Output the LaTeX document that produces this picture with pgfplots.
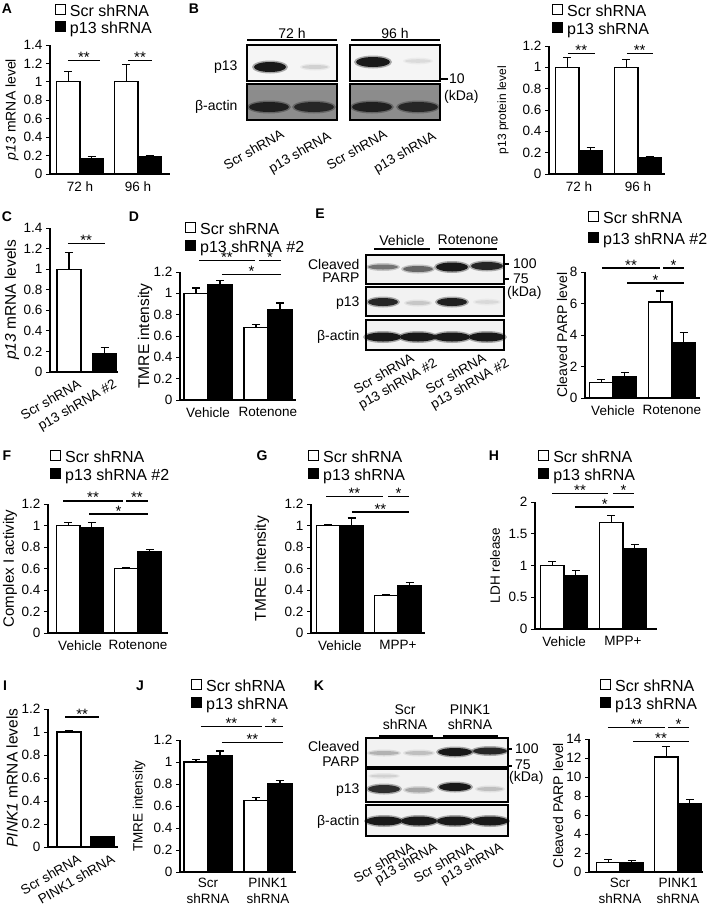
\documentclass[border=0pt]{standalone}
\usepackage{fontspec}
\setmainfont{Liberation Sans}
\usepackage{pgfplots}
\pgfplotsset{compat=1.18}
\newcommand\fs[1]{\fontsize{#1}{#1}\selectfont}
% significance bar with stars, in axis coordinates
\newcommand\sig[4]{\draw[line width=1.2pt] (axis cs:#1,#3) -- (axis cs:#2,#3) node[midway, anchor=base, font=\fs{15}, inner sep=0pt, yshift=-2pt] {#4};}
% blurred blot band
\newcommand\band[5]{\fill[#5, opacity=0.35] (#1,#2) ellipse ({#3+2} and {#4+1.5}); \fill[#5] (#1,#2) ellipse (#3 and #4);}
\newcommand\lgA{\legend{\fs{16}Scr shRNA, \fs{16}p13 shRNA}}
\newcommand\lgB{\legend{\fs{16}Scr shRNA, \fs{16}p13 shRNA \#2}}
\pgfplotsset{
  panel/.style={scale only axis, clip=false, anchor=south west,
    axis lines=left, axis line style={-, line width=1.3pt},
    ybar=0pt, ymin=0, xtick={1,2}, xtick style={draw=none},
    ytick style={black, line width=1pt}, tick align=outside, major tick length=4pt,
    tick label style={font=\fs{13.5}}, /pgf/number format/assume math mode=true,
    legend cell align=left,
    legend style={draw=none, fill=none, inner sep=0pt, row sep=0pt, anchor=north west,
      nodes={inner sep=2pt, text height=10pt, text depth=3pt},
      /tikz/every odd column/.append style={column sep=2pt}},
    legend image code/.code={\draw[##1, line width=1pt] (0pt,-1.5pt) rectangle (10pt,8.5pt);},
    enlargelimits=false},
  yl/.style={ylabel style={at={(axis description cs:-#1,0.5)}, anchor=center}},
  lg/.style 2 args={legend style={at={(axis description cs:#1,#2)}, yshift=3pt}},
  rot/.style={xticklabel style={rotate=30, anchor=north east, inner sep=0pt, xshift=6pt, yshift=-6pt}},
  two/.style={xticklabel style={align=center, inner sep=2pt, font=\fontsize{13.5}{16}\selectfont}},
  wb/.style={fill=white, draw=black, line width=1.2pt,
    error bars/y dir=plus, error bars/y explicit,
    error bars/error bar style={line width=1.2pt, black},
    error bars/error mark options={rotate=90, black, line width=1.2pt, mark size=4pt}},
  bb/.style={wb, fill=black},
}
\begin{document}
\begin{tikzpicture}
\useasboundingbox (0,0) rectangle (709pt,-906pt);

% A
\begin{axis}[panel, at={(50pt,-174pt)}, width=120pt, height=129pt,
  xmin=0.483, xmax=2.552, ymax=1.4, ytick={0,0.2,0.4,0.6,0.8,1,1.2,1.4},
  bar width=23.5pt, xticklabels={72 h,96 h},
  ylabel={\fs{14}\textit{p13} mRNA level}, yl=0.317, lg={0.04}{1.30}]
\addplot[wb] coordinates {(1,1) +- (0,0.11) (2,1) +- (0,0.19)};
\addplot[bb] coordinates {(1,0.17) +- (0,0.02) (2,0.19) +- (0,0.01)};
\lgA
\sig{0.79}{1.345}{1.23}{**}
\sig{1.83}{2.24}{1.23}{**}
\end{axis}

% B chart
\begin{axis}[panel, at={(549pt,-174pt)}, width=116pt, height=128pt,
  xmin=0.492, xmax=2.458, ymax=1.2, ytick={0,0.2,0.4,0.6,0.8,1,1.2},
  bar width=23.5pt, xticklabels={72 h,96 h},
  ylabel={\fs{12}p13 protein level}, yl=0.397, lg={0.026}{1.305}]
\addplot[wb] coordinates {(1,1) +- (0,0.09) (2,1) +- (0,0.07)};
\addplot[bb] coordinates {(1,0.22) +- (0,0.03) (2,0.15) +- (0,0.01)};
\lgA
\sig{0.81}{1.27}{1.13}{**}
\sig{1.81}{2.25}{1.13}{**}
\end{axis}

% C
\begin{axis}[panel, rot, at={(50pt,-372pt)}, width=68pt, height=144pt,
  xmin=0.465, xmax=2.38, ymax=1.4, ytick={0,0.2,0.4,0.6,0.8,1,1.2,1.4},
  bar width=24pt, xticklabels={Scr shRNA,p13 shRNA \#2},
  ylabel={\fs{15.5}\textit{p13} mRNA levels}, yl=0.56]
\addplot[wb, bar shift=0pt] coordinates {(1,1) +- (0,0.16)};
\addplot[bb, bar shift=0pt] coordinates {(2,0.18) +- (0,0.06)};
\sig{0.97}{2.0}{1.25}{**}
\end{axis}

% D
\begin{axis}[panel, at={(180pt,-400pt)}, width=116pt, height=128pt,
  xmin=0.533, xmax=2.467, ymax=1.2, ytick={0,0.2,0.4,0.6,0.8,1,1.2},
  bar width=24pt, xticklabels={Vehicle,Rotenone},
  ylabel={\fs{15.5}TMRE intensity}, yl=0.30, lg={0.043}{1.367}]
\addplot[wb] coordinates {(1,1) +- (0,0.05) (2,0.68) +- (0,0.03)};
\addplot[bb] coordinates {(1,1.08) +- (0,0.04) (2,0.85) +- (0,0.06)};
\lgB
\sig{0.85}{1.78}{1.31}{**}
\sig{1.85}{2.217}{1.31}{*}
\sig{1.233}{2.217}{1.18}{*}
\end{axis}

% E chart
\begin{axis}[panel, at={(585pt,-398pt)}, width=115pt, height=126pt,
  xmin=0.525, xmax=2.475, ymax=8, ytick={0,2,4,6,8},
  bar width=23.5pt, xticklabels={Vehicle,Rotenone},
  ylabel={\fs{14}Cleaved PARP level}, yl=0.2, lg={0.026}{1.46},
  legend style={row sep=3pt}]
\addplot[wb] coordinates {(1,1) +- (0,0.15) (2,6.1) +- (0,0.7)};
\addplot[bb] coordinates {(1,1.38) +- (0,0.22) (2,3.55) +- (0,0.6)};
\lgB
\sig{0.81}{1.80}{8.25}{**}
\sig{1.85}{2.20}{8.25}{*}
\sig{1.24}{2.20}{7.3}{*}
\end{axis}

% F
\begin{axis}[panel, at={(48pt,-633pt)}, width=120pt, height=129pt,
  xmin=0.448, xmax=2.517, ymax=1.2, ytick={0,0.2,0.4,0.6,0.8,1,1.2},
  bar width=23.5pt, xticklabels={Vehicle,Rotenone},
  ylabel={\fs{15}Complex I activity}, yl=0.317, lg={0.017}{1.395}]
\addplot[wb] coordinates {(1,1) +- (0,0.03) (2,0.6) +- (0,0.01)};
\addplot[bb] coordinates {(1,0.98) +- (0,0.05) (2,0.76) +- (0,0.015)};
\lgB
\sig{0.707}{1.741}{1.228}{**}
\sig{1.793}{2.172}{1.228}{**}
\sig{1.155}{2.172}{1.107}{*}
\end{axis}

% G
\begin{axis}[panel, at={(311pt,-633pt)}, width=114pt, height=129pt,
  xmin=0.5, xmax=2.466, ymax=1.2, ytick={0,0.2,0.4,0.6,0.8,1,1.2},
  bar width=23.5pt, xticklabels={Vehicle,MPP+},
  ylabel={\fs{15.5}TMRE intensity}, yl=0.43, lg={-0.026}{1.395}]
\addplot[wb] coordinates {(1,1) +- (0,0.01) (2,0.35) +- (0,0.01)};
\addplot[bb] coordinates {(1,1) +- (0,0.07) (2,0.44) +- (0,0.03)};
\lgA
\sig{0.76}{1.74}{1.27}{**}
\sig{1.83}{2.19}{1.27}{*}
\sig{1.207}{2.19}{1.125}{**}
\end{axis}

% H
\begin{axis}[panel, at={(535pt,-629pt)}, width=122pt, height=127pt,
  xmin=0.508, xmax=2.576, ymax=2, ytick={0,0.5,1,1.5,2},
  bar width=23.5pt, xticklabels={Vehicle,MPP+},
  ylabel={\fs{13.5}LDH release}, yl=0.328, lg={0.025}{1.386}]
\addplot[wb] coordinates {(1,1) +- (0,0.06) (2,1.68) +- (0,0.11)};
\addplot[bb] coordinates {(1,0.84) +- (0,0.08) (2,1.26) +- (0,0.07)};
\lgA
\sig{0.797}{1.746}{2.14}{**}
\sig{1.83}{2.19}{2.14}{*}
\sig{1.19}{2.19}{1.92}{*}
\end{axis}

% I
\begin{axis}[panel, rot, at={(48pt,-847pt)}, width=70pt, height=138pt,
  xmin=0.373, xmax=2.46, ymax=1.2, ytick={0,0.2,0.4,0.6,0.8,1,1.2},
  bar width=24pt, xticklabels={Scr shRNA,PINK1 shRNA},
  ylabel={\fs{15.5}\textit{PINK1} mRNA levels}, yl=0.514]
\addplot[wb, bar shift=0pt] coordinates {(1,1) +- (0,0.01)};
\addplot[bb, bar shift=0pt] coordinates {(2,0.09) +- (0,0.003)};
\sig{0.88}{1.90}{1.13}{**}
\end{axis}

% J
\begin{axis}[panel, two, at={(180pt,-872pt)}, width=116pt, height=132pt,
  xmin=0.533, xmax=2.467, ymax=1.2, ytick={0,0.2,0.4,0.6,0.8,1,1.2},
  bar width=24pt, xticklabels={{Scr\\shRNA},{PINK1\\shRNA}},
  ylabel={\fs{13.5}TMRE intensity}, yl=0.353, lg={0.095}{1.44}]
\addplot[wb] coordinates {(1,1) +- (0,0.02) (2,0.65) +- (0,0.03)};
\addplot[bb] coordinates {(1,1.06) +- (0,0.04) (2,0.8) +- (0,0.03)};
\lgA
\sig{0.883}{1.9}{1.32}{**}
\sig{1.95}{2.25}{1.32}{*}
\sig{1.233}{2.25}{1.18}{**}
\end{axis}

% K chart
\begin{axis}[panel, two, at={(589pt,-872pt)}, width=114pt, height=133pt,
  xmin=0.466, xmax=2.43, ymax=14, ytick={0,2,4,6,8,10,12,14},
  bar width=23.5pt, xticklabels={{Scr\\shRNA},{PINK1\\shRNA}},
  ylabel={\fs{14}Cleaved PARP level}, yl=0.27, lg={0.096}{1.43}]
\addplot[wb] coordinates {(1,1.0) +- (0,0.3) (2,12.1) +- (0,1.1)};
\addplot[bb] coordinates {(1,0.95) +- (0,0.3) (2,7.15) +- (0,0.45)};
\lgA
\sig{0.793}{1.776}{15.2}{**}
\sig{1.83}{2.19}{15.2}{*}
\sig{1.224}{2.19}{13.7}{**}
\end{axis}

\begin{scope}[x=1pt,y=-1pt]
% panel letters
\foreach \l/\px/\py in {A/7/9, B/194/9, C/7/217, D/134/217, E/320/214, F/7/456, G/262/456, H/494/456, I/5/686, J/140/686, K/319/686}
  \node[font=\bfseries\fs{14}] at (\px,\py) {\l};

% ---- B blot
\node[font=\fs{14}] at (292,33) {72 h};
\node[font=\fs{14}] at (395,33) {96 h};
\draw[line width=1.4pt] (247,40) -- (337,40) (351,40) -- (440,40);
\fill[black!4] (247,45) rectangle (337,81) (350,45) rectangle (440,81);
\fill[black!45] (247,84) rectangle (337,120) (350,84) rectangle (440,120);
\band{270}{67}{16}{5}{black!90}
\band{315}{67}{13}{2}{black!18}
\band{373}{62}{17}{5}{black!90}
\band{418}{61}{13}{1.8}{black!14}
\band{269}{107}{20}{5}{black!88}
\band{314}{107}{20}{5}{black!85}
\band{372}{107}{20}{5}{black!88}
\band{418}{107}{20}{5}{black!85}
\draw[line width=1.3pt] (247,45) rectangle (337,81) (350,45) rectangle (440,81)
  (247,84) rectangle (337,120) (350,84) rectangle (440,120);
\node[anchor=east, font=\fs{14}] at (241,67) {p13};
\node[anchor=east, font=\fs{14}] at (241,107) {β-actin};
\draw[line width=1.3pt] (440,79) -- (448,79);
\node[anchor=west, font=\fs{14}, inner sep=1pt] at (448,79) {10};
\node[anchor=west, font=\fs{14}, inner sep=1pt] at (443,97) {(kDa)};
\foreach \px/\py/\t in {280/128/Scr shRNA, 327/130/p13 shRNA, 383/128/Scr shRNA, 432/130/p13 shRNA}
  \node[rotate=30, anchor=north east, font=\fs{13.5}, inner sep=0pt] at (\px,\py) {\t};

% ---- E blot
\node[font=\fs{14}] at (402,240) {Vehicle};
\node[font=\fs{14}] at (468,240) {Rotenone};
\draw[line width=1.4pt] (374,249) -- (430,249) (439,249) -- (497,249);
\fill[black!5] (366,255) rectangle (504,284) (366,287) rectangle (504,316) (366,320) rectangle (504,350);
\band{383}{267}{15}{2.5}{black!55}
\band{418}{269}{15}{3}{black!60}
\band{452}{267}{16}{4.5}{black!90}
\band{487}{266}{16}{4}{black!85}
\band{383}{302}{15}{4}{black!85}
\band{418}{303}{12}{2}{black!22}
\band{452}{302}{15}{4}{black!88}
\band{487}{302}{12}{1.8}{black!15}
\foreach \px in {383,418,452,487} {\band{\px}{337}{18}{4.5}{black!90}}
\draw[line width=1.3pt] (366,255) rectangle (504,284) (366,287) rectangle (504,316) (366,320) rectangle (504,350);
\node[anchor=east, align=right, font=\fontsize{14}{12.5}\selectfont] at (363,271) {Cleaved\\PARP};
\node[anchor=east, font=\fs{14}] at (363,303) {p13};
\node[anchor=east, font=\fs{14}] at (363,337) {β-actin};
\draw[line width=1.3pt] (504,264) -- (509,264) (504,279) -- (509,279);
\node[anchor=west, font=\fs{14}, inner sep=1pt] at (512,264) {100};
\node[anchor=west, font=\fs{14}, inner sep=1pt] at (512,279) {75};
\node[anchor=west, font=\fs{14}, inner sep=1pt] at (506,293) {(kDa)};
\foreach \px/\py/\t in {410/352/Scr shRNA, 433/357/p13 shRNA \#2, 482/352/Scr shRNA, 505/357/p13 shRNA \#2}
  \node[rotate=30, anchor=north east, font=\fs{13.5}, inner sep=0pt] at (\px,\py) {\t};

% ---- K blot
\node[align=center, font=\fontsize{14}{15}\selectfont] at (405,717) {Scr\\shRNA};
\node[align=center, font=\fontsize{14}{15}\selectfont] at (470,717) {PINK1\\shRNA};
\draw[line width=1.4pt] (379,736) -- (433,736) (443,736) -- (498,736);
\fill[black!5] (366,738) rectangle (508,767) (366,769) rectangle (508,802) (366,805) rectangle (508,836);
\band{384}{753}{15}{2}{black!30}
\band{419}{753}{14}{2}{black!25}
\band{455}{752}{17}{4}{black!90}
\band{490}{751}{17}{3.5}{black!85}
\band{384}{776}{14}{1.5}{black!18}
\band{384}{789}{16}{4}{black!82}
\band{419}{790}{14}{2.5}{black!35}
\band{455}{787}{16}{4}{black!90}
\band{490}{789}{13}{2}{black!25}
\foreach \px in {384,419,455,490} {\band{\px}{821}{18}{4.5}{black!90}}
\draw[line width=1.3pt] (366,738) rectangle (508,767) (366,769) rectangle (508,802) (366,805) rectangle (508,836);
\node[anchor=east, align=right, font=\fontsize{14}{15}\selectfont] at (363,754) {Cleaved\\PARP};
\node[anchor=east, font=\fs{14}] at (363,790) {p13};
\node[anchor=east, font=\fs{14}] at (363,822) {β-actin};
\draw[line width=1.3pt] (508,749) -- (512,749) (508,766) -- (512,766);
\node[anchor=west, font=\fs{14}, inner sep=1pt] at (514,749) {100};
\node[anchor=west, font=\fs{14}, inner sep=1pt] at (514,765) {75};
\node[anchor=west, font=\fs{14}, inner sep=1pt] at (508,778) {(kDa)};
\foreach \px/\py/\t in {410/841/Scr shRNA, 433/841/p13 shRNA, 470/841/Scr shRNA, 499/841/p13 shRNA}
  \node[rotate=30, anchor=north east, font=\fs{13.5}, inner sep=0pt] at (\px,\py) {\t};
\end{scope}
\end{tikzpicture}
\end{document}
